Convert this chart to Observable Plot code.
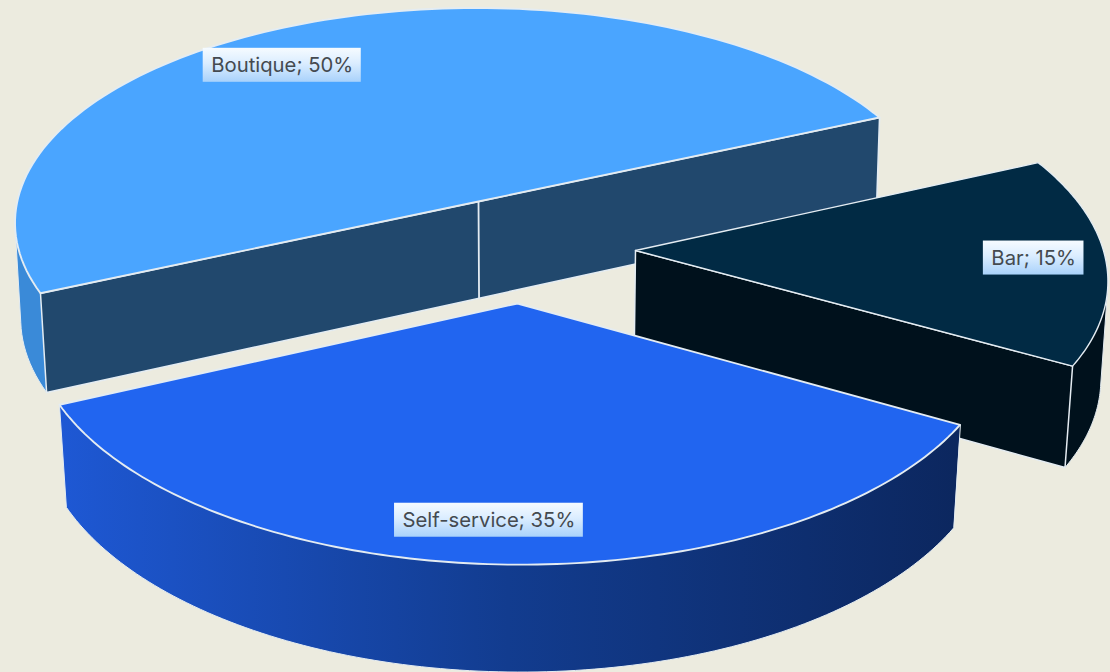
<!DOCTYPE html>
<html><head><meta charset="utf-8">
<script src="https://cdn.jsdelivr.net/npm/d3@7"></script>
<script src="https://cdn.jsdelivr.net/npm/@observablehq/plot@0.6"></script>
<style>html,body{margin:0;padding:0;background:#ecebdf;overflow:hidden}svg{display:block}</style>
</head><body><div id="chart"></div>
<script>
// Data
const categories = ["Boutique", "Bar", "Self-service"];
const shares = [50, 15, 35];

// Style
const topFills = ["#4aa5ff", "#012a44", "#2165f0"];
const rimFills = ["#3a8ad8", "#00111c", "url(#rimGrad)"];
const cutFills = ["#21486d", "#00111c", null];
const edge = "#e4ecf2";
const topEdgeWidths = [1.9, 1.4, 1.9];

// Camera: a homography from the pie's plane to the picture
const W = 1110, H = 672;
const cam = {a: 418.7, b: 190, c: -87.7, d: 194, g: 0.0441, h: -0.09, ox: 478, oy: 201};
const project = ([u, v]) => {
  const w = 1 + cam.g * u + cam.h * v;
  return [cam.ox + (cam.a * u + cam.b * v) / w, cam.oy + (cam.c * u + cam.d * v) / w];
};
// Extrusion of a top point down to the bottom face
const drop = ([x, y]) => {
  const t = y - 118;
  return [x - (x - 530) * (0.009 + 0.00002 * t), y + 94 + 0.03 * t];
};

// Explosion of each slice in the pie's plane, and label place (polar, in slice)
const explode = [[0, 0], [0.2114, 0.3427], [-0.1152, 0.4497]];
const labelPolar = [[260.67, 0.820], [26.66, 0.847], [118.55, 0.847]];

const rad = (deg) => deg * Math.PI / 180;
let cursor = 180;
const slices = categories.map((name, i) => {
  const from = cursor, to = cursor + shares[i] * 3.6;
  cursor = to;
  const at = (deg, r = 1) => project([explode[i][0] + r * Math.cos(rad(deg)), explode[i][1] + r * Math.sin(rad(deg))]);
  const arc = d3.range(0, 121).map((k) => at(from + (to - from) * k / 120));
  return {name, share: shares[i], i, from, to, at, arc, apex: at(0, 0)};
});

const poly = (pts, fill, sw = 1.4) =>
  Plot.line(pts, {x: (d) => d[0], y: (d) => d[1], curve: "linear-closed", fill, stroke: edge, strokeWidth: sw, strokeLinejoin: "round"});

const marks = [];
// gradients
marks.push(() => {
  const defs = d3.create("svg:defs");
  const rim = defs.append("linearGradient").attr("id", "rimGrad").attr("gradientUnits", "userSpaceOnUse")
    .attr("x1", 60).attr("x2", 955).attr("y1", 0).attr("y2", 0);
  rim.append("stop").attr("offset", 0).attr("stop-color", "#1e58d4");
  rim.append("stop").attr("offset", 0.5).attr("stop-color", "#123c8f");
  rim.append("stop").attr("offset", 1).attr("stop-color", "#0c275f");
  const lab = defs.append("linearGradient").attr("id", "labGrad").attr("x1", 0).attr("x2", 0).attr("y1", 0).attr("y2", 1);
  lab.append("stop").attr("offset", 0).attr("stop-color", "#f6fbff");
  lab.append("stop").attr("offset", 0.45).attr("stop-color", "#dbedff");
  lab.append("stop").attr("offset", 1).attr("stop-color", "#a9d2fb");
  return defs.node();
});

for (const s of slices) {
  // the rim is everything the arc sweeps on its way down: the hull of both arcs
  const rimPts = d3.polygonHull([...s.arc, ...s.arc.map(drop)]);
  marks.push(poly(rimPts, rimFills[s.i], 1));
  if (cutFills[s.i]) {
    if (s.i === 0) {
      const e1 = s.arc[0], e2 = s.arc[s.arc.length - 1];
      marks.push(poly([e1, e2, drop(e2), drop(e1)], cutFills[s.i], 1.5));
      marks.push(Plot.line([s.apex, drop(s.apex)], {x: (d) => d[0], y: (d) => d[1], stroke: edge, strokeWidth: 1.8}));
    } else {
      const e = s.arc[s.arc.length - 1];
      marks.push(poly([s.apex, e, drop(e), drop(s.apex)], cutFills[s.i], 1.5));
    }
  }
  marks.push(poly([s.apex, ...s.arc], topFills[s.i], topEdgeWidths[s.i]));
}

// labels
const font = "Inter";
const fontSize = 20.3;
const ctx = document.createElement("canvas").getContext("2d");
ctx.font = `${fontSize}px ${font}`;
const labels = slices.map((s) => {
  const text = `${s.name}; ${s.share}%`;
  const [cx, cy] = s.at(labelPolar[s.i][0], labelPolar[s.i][1]);
  const hw = ctx.measureText(text).width / 2 + 8;
  return {text, cx, cy, x1: cx - hw, x2: cx + hw, y1: cy - 17, y2: cy + 17};
});
marks.push(Plot.rect(labels, {x1: "x1", x2: "x2", y1: "y1", y2: "y2", fill: "url(#labGrad)", inset: 0}));
marks.push(Plot.text(labels, {x: "cx", y: "cy", text: "text", fill: "#444a50", fontSize, fontFamily: font, textAnchor: "middle", lineAnchor: "middle"}));

const chart = Plot.plot({
  width: W, height: H, margin: 0,
  x: {domain: [0, W], range: [0, W], axis: null},
  y: {domain: [0, H], range: [0, H], axis: null},
  style: {background: "#ecebdf"},
  marks
});
document.getElementById("chart").append(chart);
</script></body></html>
